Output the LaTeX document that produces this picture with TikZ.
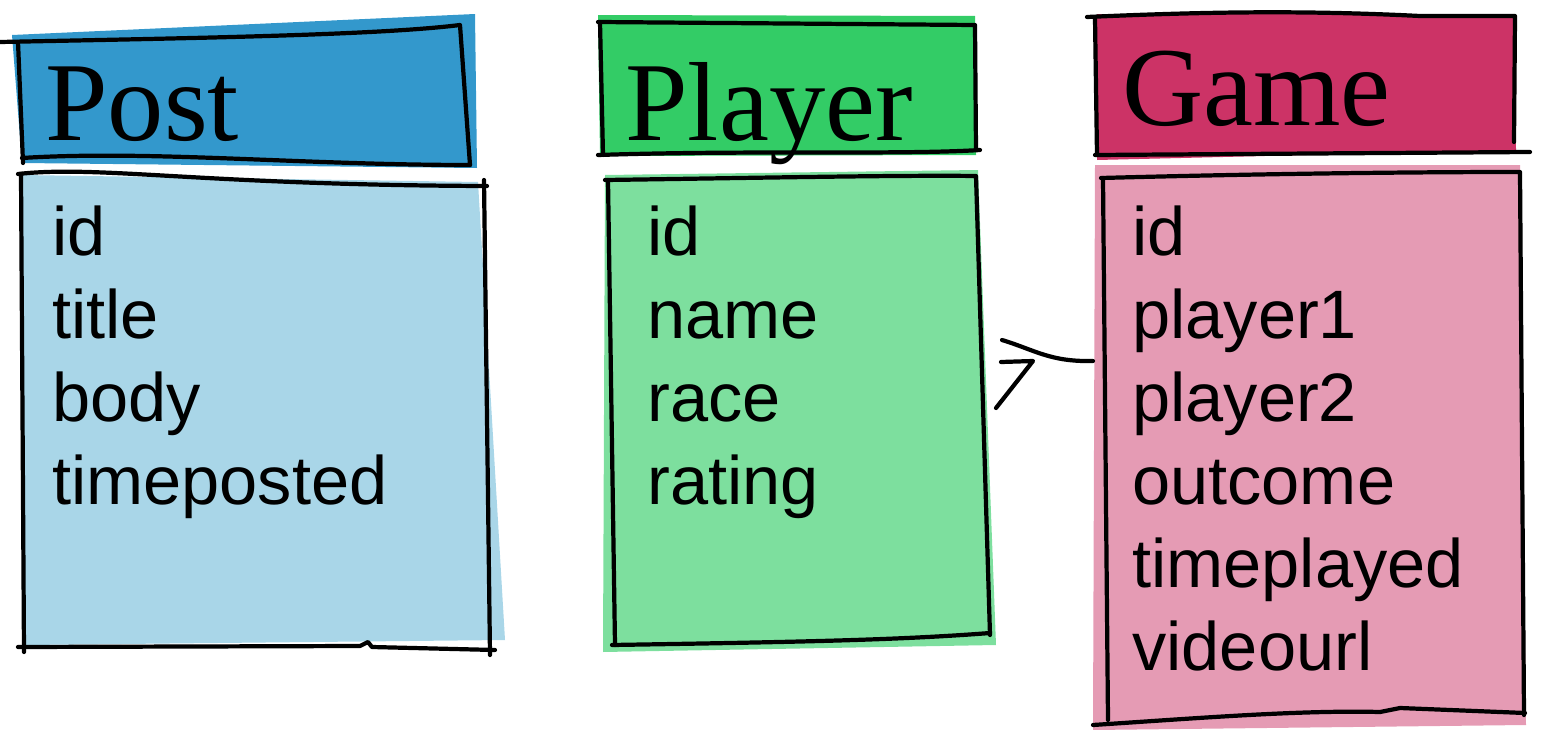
\documentclass[tikz,border=0pt]{standalone}
\usepackage{fontspec}
\setmainfont{Liberation Serif}
\setsansfont{Liberation Sans}
\definecolor{postdark}{HTML}{3398CC}
\definecolor{postlight}{HTML}{A9D6E8}
\definecolor{playerdark}{HTML}{33CC66}
\definecolor{playerlight}{HTML}{7DDF9E}
\definecolor{gamedark}{HTML}{CC3366}
\definecolor{gamelight}{HTML}{E59BB4}
\begin{document}
\begin{tikzpicture}[
  x=0.02cm, y=-0.02cm,
  sketch/.style={draw, line width=2.4pt, line cap=round, line join=round},
  title/.style={anchor=base west, inner sep=0pt, font=\fontsize{64}{64}\selectfont},
  field/.style={anchor=base west, inner sep=0pt, font=\sffamily\fontsize{39}{46}\selectfont}
]
\useasboundingbox (0,0) rectangle (1556,730);

% Post
\fill[postdark] (12,35) -- (475,14) -- (477,168) -- (22,163) -- cycle;
\fill[postlight] (22,175) -- (478,182) -- (505,640) -- (25,645) -- cycle;
\draw[sketch] (0,42) .. controls (200,38) and (380,35) .. (460,25) -- (470,165);
\draw[sketch] (18,42) -- (23,163);
\draw[sketch] (22,158) .. controls (150,150) and (300,165) .. (470,165);
\draw[sketch] (18,174) .. controls (100,165) and (200,185) .. (487,186);
\draw[sketch] (21,174) -- (24,652);
\draw[sketch] (484,180) -- (490,655);
\draw[sketch] (18,647) -- (360,646) -- (368,642) -- (372,647) -- (495,650);
\node[title] (post) at (45,140) {Post};
\foreach \t [count=\i from 0] in {id,title,body,timeposted}
  \node[field] (post-\i) at (52,255+83*\i) {\t};

% Player
\fill[playerdark] (598,15) -- (975,16) -- (976,155) -- (600,156) -- cycle;
\fill[playerlight] (605,175) -- (978,170) -- (996,645) -- (603,652) -- cycle;
\draw[sketch] (598,22) -- (975,25) -- (976,150);
\draw[sketch] (600,22) -- (603,155);
\draw[sketch] (598,155) .. controls (750,150) and (900,155) .. (980,150);
\draw[sketch] (605,180) .. controls (750,178) and (900,175) .. (976,176) -- (990,635);
\draw[sketch] (608,180) -- (615,645);
\draw[sketch] (612,645) .. controls (800,642) and (900,640) .. (990,633);
\node[title] (player) at (625,140) {Player};
\foreach \t [count=\i from 0] in {id,name,race,rating}
  \node[field] (player-\i) at (647,255+83*\i) {\t};

% Game
\fill[gamedark] (1097,14) -- (1515,14) -- (1516,150) -- (1097,160) -- cycle;
\fill[gamelight] (1095,165) -- (1520,165) -- (1526,725) -- (1093,730) -- cycle;
\draw[sketch] (1087,17) .. controls (1200,12) and (1300,10) .. (1420,16) -- (1515,16) -- (1514,142);
\draw[sketch] (1095,18) -- (1097,155);
\draw[sketch] (1095,155) -- (1530,152);
\draw[sketch] (1101,178) .. controls (1250,174) and (1400,172) .. (1520,172) -- (1524,715);
\draw[sketch] (1103,178) -- (1108,720);
\draw[sketch] (1093,725) .. controls (1200,718) and (1300,710) .. (1380,712) -- (1400,708) -- (1525,713);
\node[title] (game) at (1122,125) {Game};
\foreach \t [count=\i from 0] in {id,player1,player2,outcome,timeplayed,videourl}
  \node[field] (game-\i) at (1132,255+83*\i) {\t};

% relation
\coordinate (game-in) at (1093,361);
\coordinate (player-out) at (1002,340);
\coordinate (crow) at (1033,361);
\draw[sketch] (game-in) .. controls (1050,362) and (1035,350) .. (player-out);
\draw[sketch] (1001,362) -- (crow) -- (996,408);
\end{tikzpicture}
\end{document}
